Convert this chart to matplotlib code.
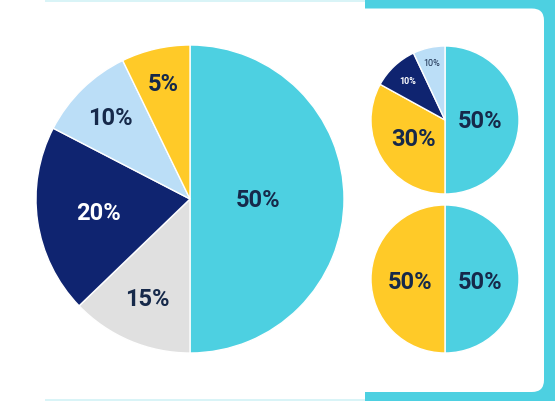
import numpy as np
import matplotlib
matplotlib.use("Agg")
import matplotlib.pyplot as plt
from matplotlib.patches import Rectangle, FancyBboxPatch

# ---- data ----
big_labels = ["50%", "15%", "20%", "10%", "5%"]
big_values = [50, 12.8, 19.8, 10.2, 7.2]
big_colors = ["#4DD0E1", "#E0E0E0", "#0F2470", "#BBDEF7", "#FFCA28"]
big_text_colors = ["#16294A", "#16294A", "#FFFFFF", "#16294A", "#16294A"]

small1_labels = ["50%", "30%", "10%", "10%"]
small1_values = [50, 33, 10, 7]
small1_colors = ["#4DD0E1", "#FFCA28", "#0F2470", "#BBDEF7"]
small1_text_colors = ["#16294A", "#16294A", "#FFFFFF", "#16294A"]

small2_labels = ["50%", "50%"]
small2_values = [50, 50]
small2_colors = ["#4DD0E1", "#FFCA28"]
small2_text_colors = ["#16294A", "#16294A"]

W, H = 555, 402
fig = plt.figure(figsize=(W / 100, H / 100), dpi=100)
ax = fig.add_axes([0, 0, 1, 1])
ax.set_xlim(0, W)
ax.set_ylim(0, H)
ax.set_aspect("equal")
ax.axis("off")

# background decorations
light = "#D9F4F7"
ax.add_patch(Rectangle((45, H - 2.5), 320, 2.5, color=light, lw=0, zorder=0))
ax.add_patch(Rectangle((45, 0), 320, 2.5, color=light, lw=0, zorder=0))
ax.add_patch(Rectangle((365, 0), W - 365, H, color="#4DD0E1", lw=0, zorder=0))
pad = 12
ax.add_patch(FancyBboxPatch((340 + pad, 9 + pad), 544 - 340 - 2 * pad, 392.5 - 9 - 2 * pad,
                            boxstyle="round,pad=%d" % pad, fc="white", ec="none", zorder=1))
ax.add_patch(Rectangle((345, 9), 25, 392.5 - 9, color="white", lw=0, zorder=1))


def draw_pie(values, colors, labels, tcolors, center, radius, dists, sizes, weights, dy=0):
    wedges, _ = ax.pie(values, colors=colors, startangle=90, counterclock=False,
                       center=center, radius=radius,
                       wedgeprops=dict(edgecolor="white", linewidth=1.0))
    for w in wedges:
        w.set_zorder(2)
    for w, lab, tc, d, s, wt in zip(wedges, labels, tcolors, dists, sizes, weights):
        mid = np.deg2rad((w.theta1 + w.theta2) / 2)
        x = center[0] + d * radius * np.cos(mid)
        y = center[1] + d * radius * np.sin(mid) + dy
        ax.text(x, y, lab, color=tc, fontsize=s, fontweight=wt, family="Roboto",
                ha="center", va="center", zorder=3)


draw_pie(big_values, big_colors, big_labels, big_text_colors,
         (190, H - 200), 154, [0.44, 0.7, 0.6, 0.74, 0.77],
         [17] * 5, ["bold"] * 5)
draw_pie(small1_values, small1_colors, small1_labels, small1_text_colors,
         (445, H - 121), 74, [0.47, 0.5, 0.73, 0.8],
         [17, 17, 6.5, 6.5], ["bold", "bold", "bold", "normal"])
draw_pie(small2_values, small2_colors, small2_labels, small2_text_colors,
         (445, H - 280), 74, [0.47, 0.47],
         [17, 17], ["bold", "bold"], dy=-3)

ax.set_xlim(0, W)
ax.set_ylim(0, H)
fig.savefig("out.png", dpi=100)
